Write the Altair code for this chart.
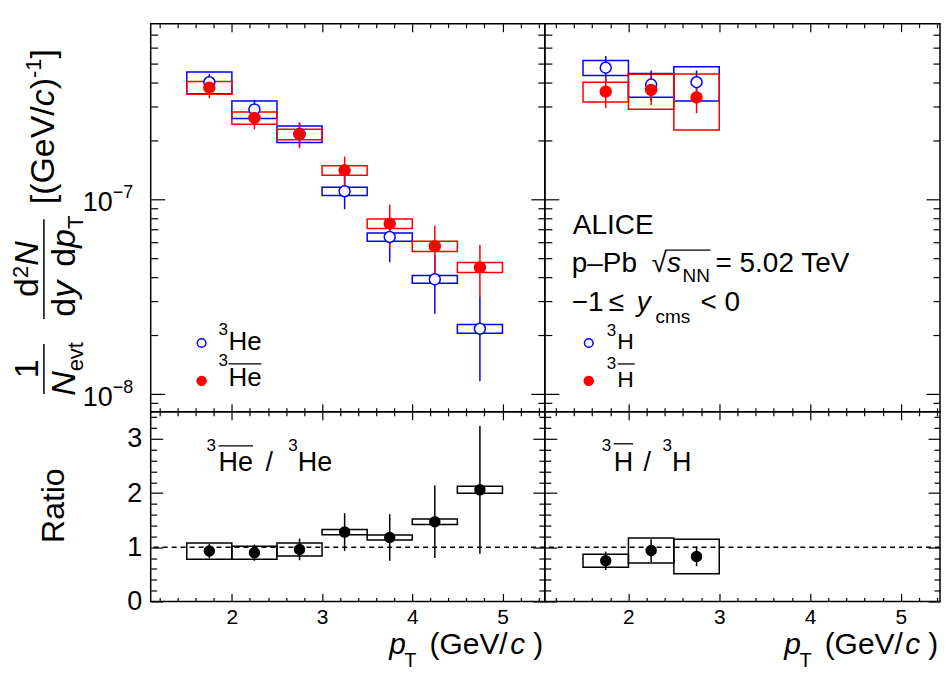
import altair as alt
import pandas as pd

# ---- values ----
pt_lo = [1.5, 2.0, 2.5, 3.0, 3.5, 4.0, 4.5]
pt_hi = [2.0, 2.5, 3.0, 3.5, 4.0, 4.5, 5.0]
pt_mid = [1.75, 2.25, 2.75, 3.25, 3.75, 4.25, 4.75]

he3 = [4.00e-7, 2.90e-7, 2.17e-7, 1.10e-7, 6.4e-8, 3.88e-8, 2.16e-8]
he3_stat = [0.40e-7, 0.35e-7, 0.30e-7, 0.21e-7, 1.65e-8, 1.3e-8, 1.0e-8]
he3_syst = [0.51e-7, 0.30e-7, 0.21e-7, 0.055e-7, 0.32e-8, 0.18e-8, 0.11e-8]

ahe3 = [3.75e-7, 2.62e-7, 2.16e-7, 1.41e-7, 7.50e-8, 5.74e-8, 4.47e-8]
ahe3_stat = [0.44e-7, 0.33e-7, 0.33e-7, 0.25e-7, 1.9e-8, 1.6e-8, 1.35e-8]
ahe3_syst = [0.28e-7, 0.19e-7, 0.135e-7, 0.08e-7, 0.43e-8, 0.35e-8, 0.26e-8]

h3 = [4.75e-7, 3.89e-7, 4.00e-7]
h3_stat = [0.70e-7, 0.70e-7, 0.60e-7]
h3_syst = [0.42e-7, 0.545e-7, 0.80e-7]

ah3 = [3.58e-7, 3.65e-7, 3.34e-7]
ah3_stat = [0.64e-7, 0.60e-7, 0.57e-7]
ah3_syst = [0.415e-7, 0.745e-7, 1.07e-7]

r_he = [0.93, 0.90, 0.96, 1.28, 1.18, 1.47, 2.06]
r_he_stat = [0.13, 0.15, 0.20, 0.35, 0.43, 0.67, 1.18]
r_he_syst = [0.15, 0.12, 0.12, 0.05, 0.045, 0.05, 0.065]

r_h = [0.75, 0.94, 0.83]
r_h_stat = [0.17, 0.21, 0.18]
r_h_syst = [0.12, 0.23, 0.32]

log_labels = [1e-8, 1e-7]
log_exps = ["\u22128", "\u22127"]

FONT = "Liberation Sans"
BLUE = "#0000ff"
RED = "#ff0000"
W_L, W_R = 395, 396
H_T, H_B = 389, 190

one = pd.DataFrame({"k": [0]})

# Arial advance widths (1/1000 em), for placing the pieces of rich text
AW = {" ": 278, "(": 333, ")": 333, "[": 278, "]": 278, "/": 278, "-": 333, "\u2212": 584,
      "\u2013": 556, "=": 584, "<": 584, "\u2264": 549, "\u221a": 549, ".": 278,
      "A": 667, "C": 722, "E": 667, "G": 778, "H": 722, "I": 278, "L": 556, "N": 722,
      "P": 667, "T": 611, "V": 667, "b": 556, "c": 500, "d": 556, "e": 556, "m": 833,
      "p": 556, "s": 500, "t": 278, "v": 500, "y": 500}


def tw(s, size):
    return sum(AW.get(ch, 556) for ch in s) * size / 1000.0


def txt(s, x, y, size, style="normal", angle=0, align="left"):
    return alt.Chart(one).mark_text(
        text=s, font=FONT, fontSize=size, fontStyle=style, angle=angle,
        align=align, baseline="alphabetic", color="black"
    ).encode(x=alt.value(x), y=alt.value(y))


def rich(pieces, x, y, rotate=False, middle=False):
    # pieces: (text, size, raise, style, extra gap after); no leading blanks (svg drops them)
    total = sum(tw(p[0], p[1]) + p[4] for p in pieces)
    pos = -total / 2 if middle else 0.0
    out = []
    for s, size, shift, style, gap in pieces:
        if rotate:
            out.append(txt(s, x - shift, y - pos, size, style, angle=270))
        else:
            out.append(txt(s, x + pos, y - shift, size, style))
        pos += tw(s, size) + gap
    return out


def line(x1, y1, x2, y2, w=1.5):
    return alt.Chart(one).mark_rule(color="black", strokeWidth=w).encode(
        x=alt.value(x1), x2=alt.value(x2), y=alt.value(y1), y2=alt.value(y2))


def marker(x, y, fill, stroke, size):
    return alt.Chart(one).mark_point(
        shape="circle", filled=True, fill=fill, stroke=stroke, strokeWidth=1.5, size=size, opacity=1
    ).encode(x=alt.value(x), y=alt.value(y))


def frame(kind, n, val, stat, syst):
    return pd.DataFrame({
        "kind": [kind] * n, "lo": pt_lo[:n], "hi": pt_hi[:n], "pt": pt_mid[:n], "val": val,
        "s_lo": [v - e for v, e in zip(val, stat)], "s_hi": [v + e for v, e in zip(val, stat)],
        "b_lo": [v - e for v, e in zip(val, syst)], "b_hi": [v + e for v, e in zip(val, syst)],
    })


X_TICKS = [round(1.2 + 0.2 * i, 1) for i in range(22)]
R_TICKS = [round(0.2 * i, 1) for i in range(18)]
L_TICKS = [k * 10.0 ** e for e in (-9, -8, -7) for k in range(1, 10) if 8.08e-9 <= k * 10.0 ** e < 7.9e-7]
INT_TEST = "abs(datum.value - round(datum.value)) < 0.01"
LOG_TEST = "abs(log(datum.value)/LN10 - round(log(datum.value)/LN10)) < 0.01"


def ticks(orient, offset, values, test, big, small):
    return alt.Axis(orient=orient, offset=offset, values=values, labels=False, domain=False,
                    grid=False, title=None, tickColor="black", tickWidth=1.2,
                    tickSize={"condition": {"test": test, "value": big}, "value": small})


def panel(df, W, H, xdom, ys, yvals, ytest, ybig, ysmall, strokes, fills, size, xlab, ylab, below, above):
    xs = alt.Scale(domain=xdom, nice=False, zero=False)
    kinds = list(dict.fromkeys(df["kind"]))
    stroke = alt.Stroke("kind:N", scale=alt.Scale(domain=kinds, range=strokes), legend=None)
    fill = alt.Fill("kind:N", scale=alt.Scale(domain=kinds, range=fills), legend=None)
    base = alt.Chart(df)
    boxes = base.mark_rect(fillOpacity=0, strokeWidth=1.5).encode(
        x=alt.X("lo:Q", scale=xs, axis=xlab), x2="hi:Q",
        y=alt.Y("b_lo:Q", scale=ys, axis=ylab), y2="b_hi:Q", stroke=stroke)
    bars = base.mark_rule(strokeWidth=1.5).encode(
        x=alt.X("pt:Q", scale=xs, axis=ticks("top", -H, X_TICKS, INT_TEST, 8, 4)),
        y=alt.Y("s_lo:Q", scale=ys, axis=ticks("right", -W, yvals, ytest, ybig, ysmall)),
        y2="s_hi:Q", stroke=stroke)
    dots = base.mark_point(shape="circle", filled=True, size=size, strokeWidth=1.5, opacity=1).encode(
        x=alt.X("pt:Q", scale=xs, axis=ticks("bottom", -H, X_TICKS, INT_TEST, 8, 4)),
        y=alt.Y("val:Q", scale=ys, axis=ticks("left", -W, yvals, ytest, ybig, ysmall)),
        stroke=stroke, fill=fill)
    layers = [b(ys) for b in below] + [boxes, bars, dots] + above
    return alt.layer(*layers).properties(width=W, height=H).resolve_axis(
        x="independent", y="independent")


x_lab = alt.Axis(orient="bottom", values=[2, 3, 4, 5], ticks=False, tickSize=0, domain=False,
                 grid=False, title=None, labelFont=FONT, labelFontSize=21, labelColor="black",
                 labelPadding=5, labelFlush=False)
r_lab = alt.Axis(orient="left", values=[0, 1, 2, 3], ticks=False, tickSize=0, domain=False,
                 grid=False, title=None, labelFont=FONT, labelFontSize=27, labelColor="black",
                 labelPadding=9, labelFlush=False)

log_y = alt.Scale(type="log", domain=[8.08e-9, 8.0e-7], nice=False)
ratio_y = alt.Scale(domain=[0, 3.5], nice=False, zero=False)


def unity(ys):
    return alt.Chart(pd.DataFrame({"r": [1.0]})).mark_rule(
        strokeDash=[5, 4], strokeWidth=1.5, color="black").encode(y=alt.Y("r:Q", scale=ys, axis=None))


def log_tick_labels(ys):
    d = pd.DataFrame({"v": log_labels, "e": log_exps})
    tens = alt.Chart(d).mark_text(text="10", font=FONT, fontSize=27, align="right", baseline="middle",
                                  dy=4, color="black").encode(
        x=alt.value(-38), y=alt.Y("v:Q", scale=ys, axis=None))
    exps = alt.Chart(d).mark_text(font=FONT, fontSize=18, align="left", baseline="alphabetic",
                                  dy=-1, color="black").encode(
        x=alt.value(-38), y=alt.Y("v:Q", scale=ys, axis=None), text="e:N")
    return alt.layer(tens, exps)


def pt_title(W):
    return rich([("p", 30, 0, "italic", -1.5), ("T", 20, -13, "normal", 13),
                 ("(GeV/", 30, 0, "normal", 2.5), ("c", 30, 0, "italic", 8),
                 (")", 30, 0, "normal", 0)], W - 156, 243)


# ---- top left: 3He and anti-3He spectra ----
tl_df = pd.concat([frame("he3", 7, he3, he3_stat, he3_syst), frame("ahe3", 7, ahe3, ahe3_stat, ahe3_syst)])
tl_extra = (
    rich([("[(GeV/", 34, 0, "normal", 0), ("c", 34, 0, "italic", 0), (")", 34, 0, "normal", 0),
          ("-1", 22, 13, "normal", 0), ("]", 34, 0, "normal", 0)], -97, 181, rotate=True)
    + rich([("d", 34, 0, "normal", 0), ("2", 22, 10, "normal", 0), ("N", 34, 0, "italic", 0)],
           -113, 246, rotate=True, middle=True)
    + [line(-107, 196, -107, 296)]
    + rich([("d", 34, 0, "normal", 0), ("y", 34, 0, "italic", 14), ("d", 34, 0, "normal", 0),
            ("p", 34, 0, "italic", 0), ("T", 22, -8, "normal", 0)], -76, 243, rotate=True, middle=True)
    + rich([("1", 34, 0, "normal", 0)], -113, 346, rotate=True, middle=True)
    + [line(-107, 321, -107, 371)]
    + rich([("N", 34, 0, "italic", 0), ("evt", 22, -8, "normal", 0)], -76, 346, rotate=True, middle=True)
    + [marker(51, 320, "white", BLUE, 75), marker(51, 358, RED, RED, 80)]
    + rich([("3", 17, 15, "normal", 0.5), ("He", 26, 0, "normal", 0)], 68, 327)
    + rich([("3", 17, 20, "normal", 0.5), ("He", 26, 0, "normal", 0)], 68, 363)
    + [line(78, 341, 111, 341, 1.3),
       alt.Chart(one).mark_rule(opacity=0).encode(x=alt.value(-141.75), y=alt.value(150), y2=alt.value(160))]
)
tl = panel(tl_df, W_L, H_T, [1.1, 5.47], log_y, L_TICKS, LOG_TEST, 14, 7, [BLUE, RED], ["white", RED], 120,
           None, None, [log_tick_labels], tl_extra)

# ---- top right: 3H and anti-3H spectra ----
tr_df = pd.concat([frame("h3", 3, h3, h3_stat, h3_syst), frame("ah3", 3, ah3, ah3_stat, ah3_syst)])
tr_extra = (
    [txt("ALICE", 28, 211, 28)]
    + rich([("p\u2013Pb", 28, 0, "normal", 14.6), ("\u221a", 28, 0, "normal", 0), ("s", 28, 0, "italic", 1.6),
            ("NN", 19, -10, "normal", 5.6), ("= 5.02 TeV", 28, 0, "normal", 0)], 27, 249)
    + [line(121, 227, 166, 227, 1.3)]
    + rich([("\u22121", 28, 0, "normal", 5.1), ("\u2264", 28, 0, "normal", 12.6), ("y", 28, 0, "italic", 5),
            ("cms", 19, -12, "normal", 10.2), ("< 0", 28, 0, "normal", 0)], 27, 288)
    + [marker(44, 320, "white", BLUE, 75), marker(44, 358, RED, RED, 80)]
    + rich([("3", 17, 13, "normal", 1), ("H", 23, 0, "normal", 0)], 62, 326)
    + rich([("3", 17, 18, "normal", 1), ("H", 23, 0, "normal", 0)], 62, 364)
    + [line(73, 341, 90, 341, 1.3)]
)
tr = panel(tr_df, W_R, H_T, [1.08, 5.43], log_y, L_TICKS, LOG_TEST, 14, 7, [BLUE, RED], ["white", RED], 120,
           None, None, [], tr_extra)

# ---- bottom left: anti-3He / 3He ----
bl_df = frame("ratio_he", 7, r_he, r_he_stat, r_he_syst)
bl_extra = (
    [txt("Ratio", -87, 94, 32, angle=270, align="center")]
    + rich([("3", 17, 20, "normal", 2.5), ("He", 27, 0, "normal", 12.5), ("/", 27, 0, "normal", 15.5),
            ("3", 17, 20, "normal", 0), ("He", 27, 0, "normal", 0)], 56, 59)
    + [line(68, 34, 102.5, 34, 1.3)]
    + pt_title(W_L)
)
bl = panel(bl_df, W_L, H_B, [1.1, 5.47], ratio_y, R_TICKS, INT_TEST, 12, 6, ["black"], ["black"], 100,
           x_lab, r_lab, [unity], bl_extra)

# ---- bottom right: anti-3H / 3H ----
br_df = frame("ratio_h", 3, r_h, r_h_stat, r_h_syst)
br_extra = (
    rich([("3", 17, 20, "normal", 2.5), ("H", 27, 0, "normal", 10.5), ("/", 27, 0, "normal", 11.5),
          ("3", 17, 20, "normal", 0), ("H", 27, 0, "normal", 0)], 57, 59)
    + [line(69, 32, 88.5, 32, 1.3)]
    + pt_title(W_R)
)
br = panel(br_df, W_R, H_B, [1.08, 5.43], ratio_y, R_TICKS, INT_TEST, 12, 6, ["black"], ["black"], 100,
           x_lab, None, [unity], br_extra)

chart = alt.concat(tl, tr, bl, br, columns=2, spacing=0, bounds="flush", align="each").resolve_scale(
    stroke="independent", fill="independent"
).properties(
    padding={"left": 0, "top": 13, "right": 0, "bottom": 0}
).configure_view(stroke="black", strokeWidth=1.5)

chart.save("out.html", embed_options={"renderer": "svg", "actions": False})
